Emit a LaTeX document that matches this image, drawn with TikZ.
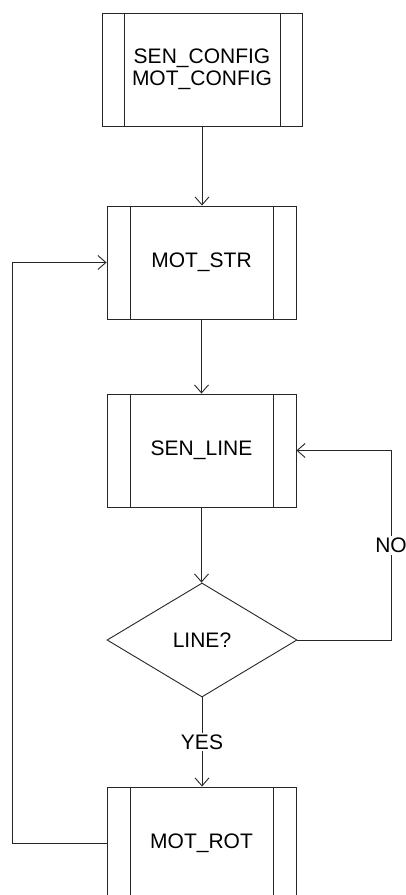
\documentclass[tikz,border=0pt]{standalone}
\usepackage{fontspec}
\setmainfont{Liberation Sans}
\usetikzlibrary{arrows.meta,shapes.geometric}

\tikzset{
  flowline/.style={line width=0.9pt, draw=black!85},
  flowarrow/.style={flowline, -{Straight Barb[length=8pt,width=14pt,line width=0.9pt]}},
  procbox/.style={draw=black!85, line width=0.9pt, rectangle, minimum height=113pt,
    inner sep=0pt, align=center, font=\fontsize{21}{24}\selectfont,
    path picture={
      \draw[line width=0.9pt, draw=black!85]
        ([xshift=#1]path picture bounding box.north west) --
        ([xshift=#1]path picture bounding box.south west)
        ([xshift=-#1]path picture bounding box.north east) --
        ([xshift=-#1]path picture bounding box.south east);
    }},
  procbox/.default=23pt,
  decision/.style={draw=black!85, line width=0.9pt, diamond, minimum width=190pt,
    minimum height=114pt, inner sep=0pt, font=\fontsize{21}{24}\selectfont},
  edgelabel/.style={fill=white, inner sep=2pt, font=\fontsize{21}{24}\selectfont}
}

\begin{document}
\begin{tikzpicture}[x=1pt,y=-1pt]
  \useasboundingbox (0,0) rectangle (405,895);
  \clip (0,0) rectangle (405,895);

  % process steps
  \node[procbox=22pt, minimum width=200pt] (config) at (202,69.5)
    {SEN\_CONFIG\\[-2pt]MOT\_CONFIG};
  \node[procbox, minimum width=189pt] (motstr) at (201.5,262.5) {MOT\_STR};
  \node[procbox, minimum width=189pt] (senline) at (201.5,450.5) {SEN\_LINE};
  \node[decision] (line) at (202,640) {LINE?};
  \node[procbox, minimum width=189pt] (motrot) at (201.5,843.5) {MOT\_ROT};

  % loop corners
  \coordinate (noright) at (391,640);
  \coordinate (noup) at (391,450.5);
  \coordinate (backleft) at (12.7,843.5);
  \coordinate (backup) at (12.7,262.5);

  % main flow
  \draw[flowarrow] (config.south) -- (config.south |- motstr.north);
  \draw[flowarrow] (motstr.south) -- (senline.north);
  \draw[flowarrow] (senline.south) -- (senline.south |- line.north);
  \draw[flowarrow] (line.south) -- node[edgelabel] (yes) {YES} (line.south |- motrot.north);

  % no line found: sense again
  \draw[flowarrow] (line.east) -- (noright) -- node[edgelabel] (no) {NO} (noup) -- (senline.east);

  % after rotation: start again
  \draw[flowarrow] (motrot.west) -- (backleft) -- (backup) -- (motstr.west);
\end{tikzpicture}
\end{document}
